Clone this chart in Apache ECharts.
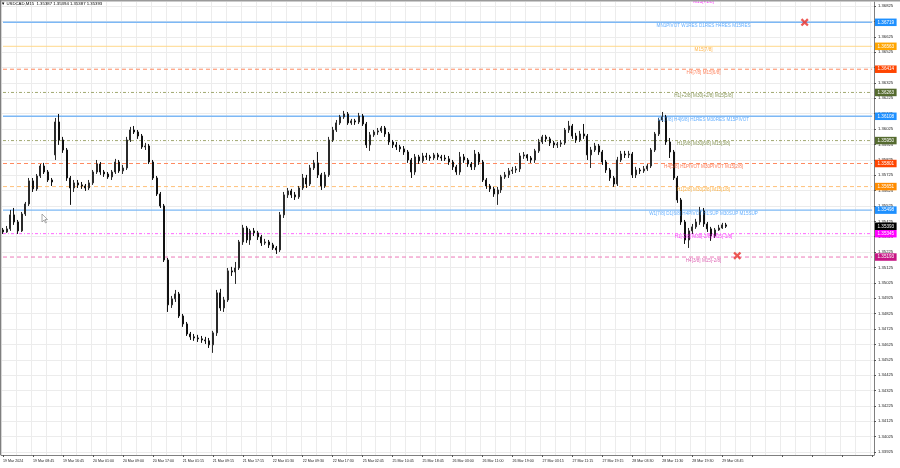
<!DOCTYPE html>
<html><head><meta charset="utf-8">
<script src="https://cdn.jsdelivr.net/npm/echarts@6/dist/echarts.min.js"></script>
<style>html,body{margin:0;padding:0;background:#fff}#c{width:900px;height:468px}</style>
</head><body><div id="c"></div>
<script>
const symbolName = 'USDCAD,M15';
const headerValues = [1.35387, 1.35394, 1.35387, 1.35393];
const tickLabels = ['19 Mar 2024','19 Mar 08:45','19 Mar 16:45','20 Mar 01:00','20 Mar 09:00','20 Mar 17:00','21 Mar 01:15','21 Mar 09:15','21 Mar 17:15','22 Mar 01:30','22 Mar 09:30','22 Mar 17:30','25 Mar 02:45','25 Mar 10:45','25 Mar 18:45','26 Mar 03:00','26 Mar 11:00','26 Mar 19:00','27 Mar 03:15','27 Mar 11:15','27 Mar 19:15','28 Mar 03:30','28 Mar 11:30','28 Mar 19:30','29 Mar 03:45'];
const yTicks = [1.33925,1.34025,1.34125,1.34225,1.34325,1.34425,1.34525,1.34625,1.34725,1.34825,1.34925,1.35025,1.35125,1.35225,1.35325,1.35425,1.35525,1.35625,1.35725,1.35825,1.35925,1.36025,1.36125,1.36225,1.36325,1.36425,1.36525,1.36625,1.36725,1.36825];

const opens = [
1.35369,1.35356,1.35376,1.35467,1.35421,1.35363,1.35473,1.35538,1.35688,1.35636,
1.35720,1.35785,1.35746,1.35694,1.35857,1.36071,1.35954,1.35889,1.35707,1.35642,
1.35675,1.35662,1.35655,1.35642,1.35675,1.35746,1.35798,1.35746,1.35733,1.35714,
1.35746,1.35811,1.35753,1.35772,1.35954,1.36019,1.36006,1.35980,1.35909,1.35915,
1.35811,1.35707,1.35603,1.35525,1.35174,1.34882,1.34921,1.34953,1.34810,1.34758,
1.34693,1.34674,1.34667,1.34661,1.34654,1.34648,1.34622,1.34700,1.34960,1.34862,
1.34914,1.35103,1.35096,1.35122,1.35291,1.35382,1.35304,1.35363,1.35350,1.35324,
1.35285,1.35291,1.35272,1.35252,1.35239,1.35467,1.35597,1.35623,1.35597,1.35584,
1.35642,1.35707,1.35668,1.35772,1.35805,1.35727,1.35655,1.35727,1.35954,1.36019,
1.36065,1.36104,1.36123,1.36065,1.36078,1.36071,1.36110,1.36058,1.35922,1.35987,
1.36006,1.36013,1.36032,1.35993,1.35941,1.35922,1.35909,1.35896,1.35876,1.35824,
1.35746,1.35844,1.35818,1.35850,1.35844,1.35837,1.35857,1.35844,1.35837,1.35831,
1.35811,1.35779,1.35746,1.35844,1.35824,1.35798,1.35779,1.35863,1.35811,1.35694,
1.35655,1.35636,1.35603,1.35629,1.35714,1.35727,1.35753,1.35759,1.35766,1.35850,
1.35857,1.35837,1.35824,1.35883,1.35941,1.35974,1.35961,1.35935,1.35922,1.35928,
1.35935,1.36019,1.36045,1.35980,1.35954,1.35993,1.35980,1.35857,1.35889,1.35915,
1.35876,1.35811,1.35759,1.35707,1.35668,1.35824,1.35863,1.35857,1.35863,1.35727,
1.35759,1.35753,1.35766,1.35785,1.35889,1.35993,1.36084,1.36104,1.35941,1.35876,
1.35707,1.35564,1.35421,1.35304,1.35363,1.35389,1.35421,1.35493,1.35408,1.35376,
1.35330,1.35369,1.35382,1.35402];
const closes = [
1.35356,1.35376,1.35467,1.35421,1.35363,1.35473,1.35538,1.35688,1.35636,1.35720,
1.35785,1.35746,1.35694,1.35681,1.36071,1.35954,1.35889,1.35707,1.35642,1.35675,
1.35662,1.35655,1.35642,1.35675,1.35746,1.35798,1.35746,1.35733,1.35714,1.35746,
1.35811,1.35753,1.35772,1.35954,1.36019,1.36006,1.35980,1.35909,1.35915,1.35811,
1.35707,1.35603,1.35525,1.35174,1.34882,1.34921,1.34953,1.34810,1.34758,1.34693,
1.34674,1.34667,1.34661,1.34654,1.34648,1.34622,1.34700,1.34960,1.34862,1.34914,
1.35103,1.35096,1.35122,1.35291,1.35382,1.35304,1.35363,1.35350,1.35324,1.35285,
1.35291,1.35272,1.35252,1.35239,1.35467,1.35597,1.35623,1.35597,1.35584,1.35642,
1.35707,1.35668,1.35772,1.35805,1.35727,1.35655,1.35727,1.35954,1.36019,1.36065,
1.36104,1.36123,1.36065,1.36078,1.36071,1.36110,1.36058,1.35922,1.35987,1.36006,
1.36013,1.36032,1.35993,1.35941,1.35922,1.35909,1.35896,1.35876,1.35824,1.35746,
1.35844,1.35818,1.35850,1.35844,1.35837,1.35857,1.35844,1.35837,1.35831,1.35811,
1.35779,1.35746,1.35844,1.35824,1.35798,1.35779,1.35863,1.35811,1.35694,1.35655,
1.35636,1.35603,1.35629,1.35714,1.35727,1.35753,1.35759,1.35766,1.35850,1.35857,
1.35837,1.35824,1.35883,1.35941,1.35974,1.35961,1.35935,1.35922,1.35928,1.35935,
1.36019,1.36045,1.35980,1.35954,1.35993,1.35980,1.35857,1.35889,1.35915,1.35876,
1.35811,1.35759,1.35707,1.35668,1.35824,1.35863,1.35857,1.35863,1.35727,1.35759,
1.35753,1.35766,1.35785,1.35889,1.35993,1.36084,1.36104,1.35941,1.35876,1.35707,
1.35564,1.35421,1.35304,1.35363,1.35389,1.35421,1.35493,1.35408,1.35376,1.35330,
1.35369,1.35382,1.35402,1.35393];
const lows = [
1.35343,1.35350,1.35363,1.35402,1.35343,1.35356,1.35460,1.35525,1.35616,1.35623,
1.35707,1.35733,1.35681,1.35655,1.35824,1.35922,1.35870,1.35688,1.35532,1.35616,
1.35642,1.35636,1.35623,1.35629,1.35662,1.35733,1.35727,1.35714,1.35701,1.35694,
1.35733,1.35740,1.35733,1.35759,1.35941,1.35993,1.35961,1.35896,1.35889,1.35798,
1.35694,1.35590,1.35512,1.35161,1.34836,1.34862,1.34901,1.34797,1.34739,1.34680,
1.34654,1.34648,1.34641,1.34635,1.34628,1.34602,1.34570,1.34680,1.34843,1.34836,
1.34901,1.35070,1.35018,1.35109,1.35272,1.35285,1.35272,1.35330,1.35304,1.35265,
1.35272,1.35252,1.35239,1.35213,1.35226,1.35447,1.35577,1.35577,1.35564,1.35571,
1.35629,1.35642,1.35655,1.35759,1.35707,1.35629,1.35642,1.35714,1.35941,1.36006,
1.36052,1.36091,1.36052,1.36052,1.36052,1.36058,1.36045,1.35902,1.35883,1.35974,
1.35987,1.36000,1.35974,1.35922,1.35902,1.35889,1.35876,1.35857,1.35805,1.35707,
1.35727,1.35798,1.35805,1.35824,1.35818,1.35824,1.35824,1.35818,1.35818,1.35792,
1.35759,1.35727,1.35727,1.35805,1.35779,1.35759,1.35759,1.35792,1.35681,1.35636,
1.35616,1.35584,1.35532,1.35610,1.35701,1.35707,1.35733,1.35740,1.35746,1.35831,
1.35818,1.35805,1.35805,1.35870,1.35928,1.35941,1.35915,1.35902,1.35902,1.35909,
1.35922,1.36000,1.35961,1.35935,1.35941,1.35961,1.35824,1.35772,1.35876,1.35857,
1.35792,1.35740,1.35688,1.35649,1.35655,1.35811,1.35837,1.35837,1.35707,1.35707,
1.35733,1.35740,1.35753,1.35772,1.35876,1.35980,1.36071,1.35922,1.35837,1.35694,
1.35545,1.35402,1.35278,1.35252,1.35343,1.35376,1.35402,1.35389,1.35356,1.35298,
1.35317,1.35363,1.35376,1.35382];
const highs = [
1.35382,1.35395,1.35499,1.35512,1.35434,1.35486,1.35551,1.35707,1.35707,1.35733,
1.35798,1.35805,1.35759,1.35707,1.36097,1.36123,1.35974,1.35902,1.35720,1.35694,
1.35694,1.35681,1.35668,1.35694,1.35759,1.35824,1.35811,1.35759,1.35746,1.35759,
1.35831,1.35824,1.35792,1.35974,1.36039,1.36045,1.36019,1.35993,1.35935,1.35928,
1.35824,1.35720,1.35616,1.35538,1.35187,1.34940,1.34979,1.34966,1.34823,1.34771,
1.34706,1.34693,1.34687,1.34680,1.34674,1.34667,1.34713,1.34979,1.34986,1.34934,
1.35122,1.35129,1.35161,1.35304,1.35402,1.35395,1.35376,1.35382,1.35363,1.35337,
1.35311,1.35304,1.35285,1.35265,1.35486,1.35616,1.35642,1.35636,1.35616,1.35655,
1.35733,1.35727,1.35792,1.35824,1.35876,1.35740,1.35746,1.35974,1.36039,1.36084,
1.36117,1.36143,1.36136,1.36091,1.36091,1.36130,1.36123,1.36071,1.36006,1.36019,
1.36032,1.36045,1.36045,1.36006,1.35954,1.35941,1.35922,1.35915,1.35889,1.35837,
1.35863,1.35857,1.35870,1.35870,1.35857,1.35870,1.35870,1.35857,1.35857,1.35850,
1.35824,1.35792,1.35876,1.35863,1.35837,1.35811,1.35889,1.35876,1.35824,1.35707,
1.35668,1.35649,1.35649,1.35727,1.35746,1.35772,1.35779,1.35785,1.35870,1.35876,
1.35863,1.35850,1.35896,1.35961,1.35987,1.35987,1.35974,1.35948,1.35941,1.35954,
1.36032,1.36078,1.36058,1.36000,1.36013,1.36058,1.35993,1.35909,1.35935,1.35928,
1.35889,1.35824,1.35772,1.35720,1.35844,1.35883,1.35883,1.35883,1.35876,1.35779,
1.35772,1.35785,1.35798,1.35902,1.36006,1.36097,1.36136,1.36117,1.35967,1.35889,
1.35720,1.35577,1.35434,1.35382,1.35408,1.35441,1.35519,1.35512,1.35421,1.35389,
1.35382,1.35402,1.35415,1.35415];

const levelValues = [1.36872, 1.36719, 1.36563, 1.36414, 1.36263, 1.36108, 1.35950, 1.35801, 1.35651, 1.35498, 1.35345, 1.35193];
const levelTexts = ['M15[+1/8]', 'MN1PIVOT W1RES D1RES H4RES M15RES', 'M15[7/8]', 'H4[7/8] M15[6/8]', 'H1[+2/8] M30[+2/8] M15[5/8]', 'D1[7/8] H4[6/8] H1RES M30RES M15PIVOT', 'H1[6/8] M30[6/8] M15[3/8]', 'H4[5/8] H1PIVOT M30PIVOT M15[2/8]', 'H1[2/8] M30[2/8] M15[1/8]', 'W1[7/8] D1[6/8] H4PIVOT H1SUP M30SUP M15SUP', 'H1[-2/8] M30[-2/8] M15[-1/8]', 'H4[3/8] M15[-2/8]'];
const currentPrice = 1.35393;
const crossSlots = [214, 196];
const crossPrices = [1.36719, 1.35202];
const levelTextSlot = 187;
const totalSlots = 233;

// styles (per level, same order)
const levelStyles = [
  {line:'#ff30ff', type:[3,2,1,2], text:'#ff00ff', box:'#ff00ff', w:1},
  {line:'#7db8f5', type:'solid', text:'#3d9bff', box:'#1e90ff', w:1.4},
  {line:'#ffd98c', type:'solid', text:'#ffa31a', box:'#ffa500', w:1},
  {line:'#ff8a60', type:[4,3], text:'#ff6a3d', box:'#ff4500', w:1},
  {line:'#a0a870', type:[3,2,1,2], text:'#6b7d2f', box:'#556b2f', w:1},
  {line:'#7db8f5', type:'solid', text:'#3d9bff', box:'#1e90ff', w:1.4},
  {line:'#a0a870', type:[3,2,1,2], text:'#6b7d2f', box:'#556b2f', w:1},
  {line:'#ff8a60', type:[4,3], text:'#ff5a2a', box:'#ff4500', w:1},
  {line:'#ffc07a', type:[4,3], text:'#ffa31a', box:'#ff8c00', w:1},
  {line:'#7db8f5', type:'solid', text:'#3d9bff', box:'#1e90ff', w:1.4},
  {line:'#ff66ff', type:[3,2,1,2], text:'#ff00ff', box:'#ff00ff', w:1},
  {line:'#ec78b8', type:[4,3], text:'#d63fa0', box:'#c71585', w:1}
];

const slots = Array.from({length: totalSlots}, (_, i) => i);
const candleData = opens.map((o, i) => [o, closes[i], lows[i], highs[i]]);

const chart = echarts.init(document.getElementById('c'), null, {renderer: 'canvas'});
const FONT = 'Liberation Sans, Arial, sans-serif';

const hiddenLine = {color: 'rgba(255,255,255,0)', width: 1, type: 'solid'};
const boxLabels = levelValues.map((v, i) => ({
  yAxis: v,
  lineStyle: hiddenLine,
  label: {show: true, position: 'end', distance: 1, formatter: v.toFixed(5), color: '#fff', opacity: 1,
    backgroundColor: levelStyles[i].box, fontSize: 4.6, fontFamily: FONT, padding: [1.5, 2.5, 1, 2.5]}
}));
boxLabels.push({
  yAxis: currentPrice,
  lineStyle: hiddenLine,
  label: {show: true, position: 'end', distance: 1, formatter: currentPrice.toFixed(5), color: '#fff', opacity: 1,
    backgroundColor: '#000', fontSize: 4.6, fontFamily: FONT, padding: [1.5, 2.5, 1, 2.5]}
});

const levelLineSeries = levelValues.map((v, i) => ({
  name: levelTexts[i], type: 'line', z: 1, silent: true, symbol: 'none', animation: false,
  data: [[0, v], [totalSlots - 1, v]],
  lineStyle: {color: levelStyles[i].line, type: levelStyles[i].type, width: levelStyles[i].w}
}));

const option = {
  animation: false,
  backgroundColor: '#fff',
  title: {
    text: '\u25BC ' + symbolName + '  ' + headerValues.map(v => v.toFixed(5)).join(' '),
    left: 1, top: 2, padding: 0,
    textStyle: {fontSize: 4.3, fontWeight: 'normal', color: '#000', fontFamily: FONT}
  },
  grid: {left: 0, right: 26, top: 2, bottom: 13},
  xAxis: {
    type: 'category', data: slots, boundaryGap: true,
    axisLine: {show: true, lineStyle: {color: '#7f7f7f', width: 1}},
    axisTick: {show: true, interval: 7, alignWithLabel: true, length: 2, lineStyle: {color: '#555'}},
    axisLabel: {show: true, interval: 7, align: 'left', margin: 4, fontSize: 3.6, color: '#222', fontFamily: FONT,
      formatter: (val, idx) => tickLabels[idx / 8] || ''},
    splitLine: {show: true, interval: 3, lineStyle: {color: '#ececec', width: 1}}
  },
  yAxis: {
    type: 'value', position: 'right', min: 1.33906, max: 1.36851, scale: true,
    axisLine: {show: true, lineStyle: {color: '#7f7f7f', width: 1}},
    axisTick: {show: true, length: 2, customValues: yTicks, lineStyle: {color: '#555'}},
    axisLabel: {show: true, customValues: yTicks, margin: 4, fontSize: 4.2, color: '#222', fontFamily: FONT,
      formatter: v => v.toFixed(5)},
    splitLine: {show: true, lineStyle: {color: '#ececec', width: 1}}
  },
  series: [
    ...levelLineSeries,
    {
      name: symbolName, type: 'candlestick', data: candleData, z: 3, barWidth: 1.5,
      itemStyle: {color: '#6a6a6a', color0: '#1a1a1a', borderColor: '#2a2a2a', borderColor0: '#111', borderWidth: 1}
    },
    {
      name: 'levelText', type: 'scatter', z: 5, symbolSize: 0, silent: true, clip: false,
      data: levelValues.map((v, i) => ({
        value: [levelTextSlot, v],
        label: {show: true, position: 'inside', offset: [0, 3.4], formatter: levelTexts[i],
          color: levelStyles[i].text, fontSize: 4.6, fontFamily: FONT}
      })),
      markLine: {symbol: 'none', silent: true, animation: false, precision: 5, data: boxLabels}
    },
    {
      name: 'marks', type: 'scatter', z: 6, silent: true,
      symbol: 'path://M2,0 L5,3 L8,0 L10,2 L7,5 L10,8 L8,10 L5,7 L2,10 L0,8 L3,5 L0,2 Z',
      symbolSize: 8, itemStyle: {color: '#e8302a'},
      data: crossSlots.map((s, i) => [s, crossPrices[i]])
    }
  ],
  graphic: [
    {type: 'rect', left: 0, top: 0, shape: {width: 900, height: 1.5}, style: {fill: '#9a9a9a'}, z: 100},
    {type: 'rect', left: 0, top: 0, shape: {width: 1.2, height: 455}, style: {fill: '#7f7f7f'}, z: 100},
    {type: 'polygon', z: 100, shape: {points: [[42,214],[42,222],[44,220],[45.5,223],[46.5,222.5],[45,219.5],[47.5,219.5]]},
      style: {fill: '#fff', stroke: '#8a8a8a', lineWidth: 0.7}}
  ]
};
chart.setOption(option);
</script>
</body></html>
